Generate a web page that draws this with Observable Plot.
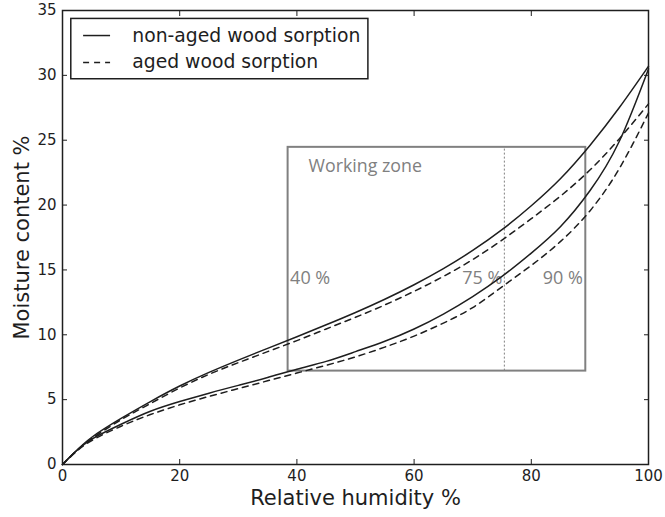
<!DOCTYPE html>
<html>
<head>
<meta charset="utf-8">
<script src="https://cdn.jsdelivr.net/npm/d3@7"></script>
<script src="https://cdn.jsdelivr.net/npm/@observablehq/plot@0.6"></script>
<style>
  html, body { margin: 0; padding: 0; background: #fff; }
  #chart svg { display: block; }
</style>
</head>
<body>
<div id="chart"></div>
<script>
// Relative humidity (%) sample points
const rh = [0, 2, 5, 10, 15, 20, 25, 30, 35, 40, 45, 50, 55, 60, 65, 70, 75, 80, 85, 90, 95, 100];
// Moisture content (%)
const nonAgedDesorption = [0, 0.9, 2.1, 3.55, 4.85, 6.05, 7.1, 8.05, 8.95, 9.85, 10.77, 11.72, 12.74, 13.86, 15.1, 16.5, 18.1, 19.95, 22.05, 24.6, 27.5, 30.7];
const nonAgedAdsorption = [0, 0.9, 1.95, 3.1, 4.1, 4.85, 5.5, 6.1, 6.7, 7.35, 7.95, 8.7, 9.5, 10.45, 11.6, 12.95, 14.5, 16.3, 18.35, 21.1, 24.9, 30.5];
const agedDesorption = [0, 0.9, 2.0, 3.45, 4.7, 5.9, 6.95, 7.85, 8.7, 9.55, 10.45, 11.35, 12.3, 13.35, 14.5, 15.8, 17.3, 18.95, 20.7, 22.7, 25.1, 27.8];
const agedAdsorption = [0, 0.85, 1.85, 2.95, 3.85, 4.6, 5.25, 5.85, 6.45, 7.05, 7.65, 8.3, 9.05, 9.9, 10.9, 12.1, 13.7, 15.35, 17.2, 19.55, 22.8, 27.1];

// Working zone
const zoneRH = [38.5, 89.3];
const zoneMC = [7.2, 24.45];
const markerRH = [75.4];
const zoneLabels = ["40 %", "75 %", "90 %"];
const zoneTitle = "Working zone";

// Axes
const xTicks = [0, 20, 40, 60, 80, 100];
const yTicks = [0, 5, 10, 15, 20, 25, 30, 35];
const xLabel = "Relative humidity %";
const yLabel = "Moisture content %";
const legendLabels = ["non-aged wood sorption", "aged wood sorption"];

const series = [
  {name: "nonAgedDes", aged: false, values: nonAgedDesorption},
  {name: "nonAgedAds", aged: false, values: nonAgedAdsorption},
  {name: "agedDes", aged: true, values: agedDesorption},
  {name: "agedAds", aged: true, values: agedAdsorption}
];
const pts = series.flatMap(s => rh.map((x, i) => ({x, y: s.values[i], name: s.name, aged: s.aged})));

const ink = "#1e1e1e";
const grey = "#808080";
const zoneFont = "'Open Sans', 'Noto Sans', sans-serif";

const chart = Plot.plot({
  width: 665,
  height: 517,
  marginLeft: 62,
  marginRight: 17,
  marginTop: 10,
  marginBottom: 53,
  style: {fontFamily: "'DejaVu Sans', sans-serif", fontSize: "15px", color: ink, background: "#fff"},
  x: {domain: [0, 100]},
  y: {domain: [0, 35]},
  marks: [
    // working zone
    Plot.rect([{x1: zoneRH[0], x2: zoneRH[1], y1: zoneMC[0], y2: zoneMC[1]}],
      {x1: "x1", x2: "x2", y1: "y1", y2: "y2", fill: "none", stroke: grey, strokeWidth: 2}),
    Plot.ruleX(markerRH, {y1: zoneMC[0], y2: zoneMC[1], stroke: grey, strokeWidth: 1, strokeDasharray: "2,2"}),
    Plot.text([zoneTitle], {x: 42, y: 23.0, text: d => d, textAnchor: "start", fill: grey, fontSize: 17.8, fontFamily: zoneFont}),
    Plot.text([zoneLabels[0]], {x: zoneRH[0], y: 14.35, text: d => d, textAnchor: "start", dx: 2, fill: grey, fontSize: 18, fontFamily: zoneFont}),
    Plot.text([zoneLabels[1]], {x: markerRH[0], y: 14.35, text: d => d, textAnchor: "end", dx: -2, fill: grey, fontSize: 18, fontFamily: zoneFont}),
    Plot.text([zoneLabels[2]], {x: zoneRH[1], y: 14.35, text: d => d, textAnchor: "end", dx: -3, fill: grey, fontSize: 18, fontFamily: zoneFont}),
    // curves
    Plot.line(pts.filter(d => !d.aged), {x: "x", y: "y", z: "name", stroke: ink, strokeWidth: 1.5, curve: "natural"}),
    Plot.line(pts.filter(d => d.aged), {x: "x", y: "y", z: "name", stroke: ink, strokeWidth: 1.5, strokeDasharray: "6,5", curve: "natural"}),
    // axes: labels
    Plot.axisX(xTicks, {anchor: "bottom", tickSize: 0, tickPadding: 6, label: null, fontSize: 15}),
    Plot.axisY(yTicks, {anchor: "left", tickSize: 0, tickPadding: 6, label: null, fontSize: 15}),
    // inward ticks on all sides
    Plot.axisX(xTicks, {anchor: "bottom", tickSize: 5, dy: -5, tickFormat: () => "", label: null, stroke: ink}),
    Plot.axisX(xTicks, {anchor: "top", tickSize: 5, dy: 5, tickFormat: () => "", label: null, stroke: ink}),
    Plot.axisY(yTicks, {anchor: "left", tickSize: 5, dx: 5, tickFormat: () => "", label: null, stroke: ink}),
    Plot.axisY(yTicks, {anchor: "right", tickSize: 5, dx: -5, tickFormat: () => "", label: null, stroke: ink}),
    Plot.frame({stroke: ink, strokeWidth: 1.5}),
    // axis titles
    Plot.text([xLabel], {frameAnchor: "bottom", lineAnchor: "middle", dy: 34, text: d => d, fontSize: 21, fill: ink}),
    Plot.text([yLabel], {frameAnchor: "left", textAnchor: "middle", lineAnchor: "middle", dx: -40, rotate: -90, text: d => d, fontSize: 21, fill: ink}),
    // legend
    Plot.rect([{x1: 1.5, x2: 52.2, y1: 29.7, y2: 34.35}], {x1: "x1", x2: "x2", y1: "y1", y2: "y2", fill: "#fff", stroke: ink, strokeWidth: 1.5}),
    Plot.ruleY([33.07], {x1: 3.6, x2: 8.2, stroke: ink, strokeWidth: 1.5}),
    Plot.ruleY([31.0], {x1: 3.6, x2: 8.2, stroke: ink, strokeWidth: 1.5, strokeDasharray: "6,5"}),
    Plot.text([legendLabels[0]], {x: 11.9, y: 33.07, text: d => d, textAnchor: "start", fontSize: 18.8, fill: ink}),
    Plot.text([legendLabels[1]], {x: 11.9, y: 31.0, text: d => d, textAnchor: "start", fontSize: 18.8, fill: ink})
  ]
});
document.getElementById("chart").append(chart);
</script>
</body>
</html>
